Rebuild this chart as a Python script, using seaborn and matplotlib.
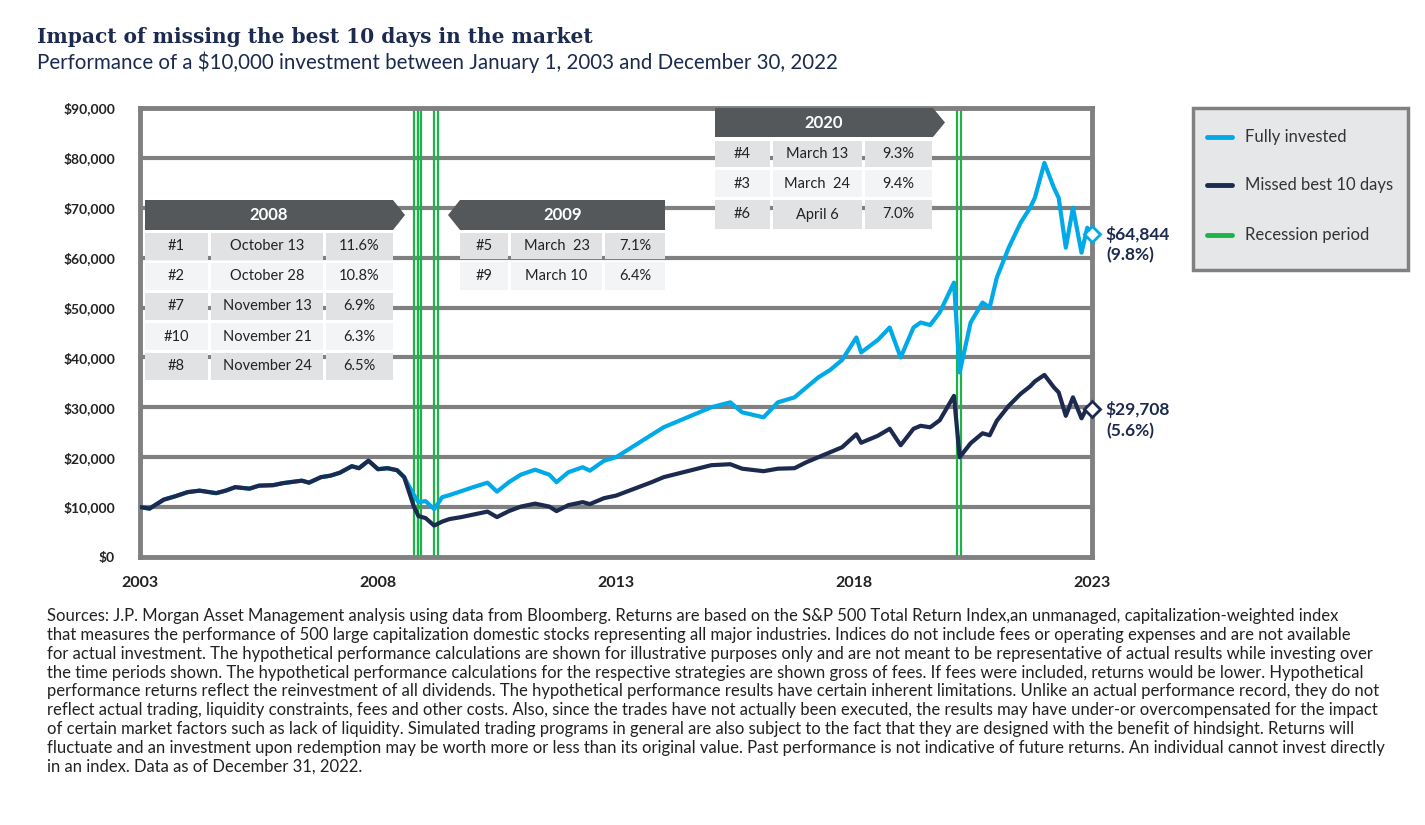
import matplotlib
matplotlib.use("Agg")
import matplotlib.pyplot as plt
import seaborn as sns
import pandas as pd
from matplotlib.patches import Rectangle, Polygon
from matplotlib.lines import Line2D

sns.set_theme(style="white")
plt.rcParams['font.family'] = ['Lato', 'DejaVu Sans']

years = [2003.0, 2003.2, 2003.5, 2003.75, 2004.0, 2004.25, 2004.6, 2004.8, 2005.0, 2005.3, 2005.5, 2005.8,
         2006.0, 2006.4, 2006.55, 2006.8, 2007.0, 2007.2, 2007.45, 2007.6, 2007.8, 2008.0, 2008.2, 2008.4,
         2008.55, 2008.75, 2008.85, 2009.0, 2009.18, 2009.35, 2009.5, 2009.75, 2010.0, 2010.3, 2010.5,
         2010.75, 2011.0, 2011.3, 2011.6, 2011.75, 2012.0, 2012.3, 2012.45, 2012.75, 2013.0, 2013.25,
         2013.5, 2013.75, 2014.0, 2014.25, 2014.5, 2014.75, 2015.0, 2015.4, 2015.65, 2016.1, 2016.4,
         2016.75, 2017.0, 2017.25, 2017.5, 2017.75, 2018.05, 2018.15, 2018.5, 2018.75, 2018.98, 2019.25,
         2019.4, 2019.6, 2019.8, 2020.1, 2020.22, 2020.45, 2020.7, 2020.85, 2021.0, 2021.25, 2021.5,
         2021.7, 2021.8, 2022.0, 2022.2, 2022.3, 2022.45, 2022.6, 2022.78, 2022.9, 2023.0]
fully = [10000, 9700, 11500, 12200, 13000, 13300, 12800, 13300, 14000, 13700, 14300, 14400,
         14800, 15300, 14900, 16000, 16300, 16900, 18200, 17800, 19300, 17600, 17800, 17400,
         16000, 12500, 11000, 11200, 9600, 12000, 12400, 13200, 14000, 14900, 13100,
         15000, 16500, 17500, 16500, 15000, 17000, 18000, 17300, 19300, 20000, 21500,
         23000, 24500, 26000, 27000, 28000, 29000, 30000, 31000, 29000, 28000, 31000,
         32000, 34000, 36000, 37500, 39500, 44000, 41000, 43500, 46000, 40000, 46000,
         47000, 46500, 49000, 55000, 37000, 47000, 51000, 50000, 56000, 62000, 67000,
         70000, 72000, 79000, 74000, 72000, 62000, 70000, 61000, 66000, 64844]
missed = [10000, 9700, 11500, 12200, 13000, 13300, 12800, 13300, 14000, 13700, 14300, 14400,
          14800, 15300, 14900, 16000, 16300, 16900, 18200, 17800, 19300, 17600, 17800, 17400,
          16000, 10200, 8200, 7800, 6300, 7100, 7600, 8000, 8500, 9100, 8000,
          9200, 10100, 10700, 10100, 9200, 10400, 11000, 10600, 11800, 12300, 13200,
          14100, 15000, 16000, 16600, 17200, 17800, 18400, 18600, 17700, 17200, 17700,
          17800, 19000, 20000, 21000, 22000, 24600, 22900, 24300, 25700, 22400, 25700,
          26300, 26000, 27400, 32300, 20000, 22800, 24800, 24400, 27300, 30300, 32700,
          34200, 35200, 36500, 34000, 33000, 28300, 32000, 27800, 30000, 29708]
recession_x = [2008.79, 2008.87, 2009.21, 2020.2]
year_ticks = [2003, 2008, 2013, 2018, 2023]
y_ticks = [0, 10000, 20000, 30000, 40000, 50000, 60000, 70000, 80000, 90000]

tables = {
    "2008": [["#1", "October 13", "11.6%"], ["#2", "October 28", "10.8%"], ["#7", "November 13", "6.9%"],
             ["#10", "November 21", "6.3%"], ["#8", "November 24", "6.5%"]],
    "2009": [["#5", "March  23", "7.1%"], ["#9", "March 10", "6.4%"]],
    "2020": [["#4", "March 13", "9.3%"], ["#3", "March  24", "9.4%"], ["#6", "April 6", "7.0%"]],
}
footer = ("Sources: J.P. Morgan Asset Management analysis using data from Bloomberg. Returns are based on the S&P 500 Total Return Index,an unmanaged, capitalization-weighted index\n"
          "that measures the performance of 500 large capitalization domestic stocks representing all major industries. Indices do not include fees or operating expenses and are not available\n"
          "for actual investment. The hypothetical performance calculations are shown for illustrative purposes only and are not meant to be representative of actual results while investing over\n"
          "the time periods shown. The hypothetical performance calculations for the respective strategies are shown gross of fees. If fees were included, returns would be lower. Hypothetical\n"
          "performance returns reflect the reinvestment of all dividends. The hypothetical performance results have certain inherent limitations. Unlike an actual performance record, they do not\n"
          "reflect actual trading, liquidity constraints, fees and other costs. Also, since the trades have not actually been executed, the results may have under-or overcompensated for the impact\n"
          "of certain market factors such as lack of liquidity. Simulated trading programs in general are also subject to the fact that they are designed with the benefit of hindsight. Returns will\n"
          "fluctuate and an investment upon redemption may be worth more or less than its original value. Past performance is not indicative of future returns. An individual cannot invest directly\n"
          "in an index. Data as of December 31, 2022.")

W, H = 1425, 825
NAVY = "#1b2a4e"; BLUE = "#00a9e8"; GREEN = "#1db34a"; GRID = "#808080"
fig = plt.figure(figsize=(W / 100, H / 100), dpi=100)
ax = fig.add_axes([140 / W, 1 - 557 / H, (1092 - 140) / W, (557 - 108) / H])

df = pd.DataFrame({"year": years + years, "value": fully + missed,
                   "series": ["Fully invested"] * len(years) + ["Missed best 10 days"] * len(years)})
for x in recession_x:
    ax.axvline(x - 0.04, color=GREEN, lw=1.6, zorder=1)
    ax.axvline(x + 0.04, color=GREEN, lw=1.6, zorder=1)
sns.lineplot(data=df, x="year", y="value", hue="series", palette=[BLUE, NAVY], lw=3, ax=ax,
             legend=False, zorder=3)
ax.set_xlim(2003, 2023); ax.set_ylim(0, 90000)
ax.set_yticks(y_ticks); ax.set_xticks(year_ticks)
ax.set_yticklabels([f"${v:,}" for v in y_ticks], fontsize=10, fontweight="bold", color="#222")
ax.set_xticklabels([str(v) for v in year_ticks], fontsize=11.5, fontweight="bold", color="#222")
ax.tick_params(axis="x", pad=8); ax.tick_params(axis="y", pad=12)
ax.set_xlabel(""); ax.set_ylabel("")
for v in y_ticks[1:]:
    ax.axhline(v, color=GRID, lw=3, zorder=0)
for s in ax.spines.values():
    s.set_color(GRID); s.set_linewidth(3.5)

ax.plot([years[-1]], [fully[-1]], marker="D", ms=8, mfc="white", mec=BLUE, mew=2, zorder=5, clip_on=False)
ax.plot([years[-1]], [missed[-1]], marker="D", ms=8, mfc="white", mec=NAVY, mew=2, zorder=5, clip_on=False)
for val, pct in [(fully[-1], "(9.8%)"), (missed[-1], "(5.6%)")]:
    ax.annotate(f"${val:,}\n{pct}", (years[-1], val), xytext=(10, -8), textcoords="offset points",
                va="center", ha="left", fontsize=12.5, fontweight="bold", color=NAVY, linespacing=1.35,
                annotation_clip=False)

def fx(px): return px / W
def fy(py): return 1 - py / H

def rect(x0, y0, x1, y1, color, z=10):
    fig.patches.append(Rectangle((fx(x0), fy(y1)), fx(x1) - fx(x0), fy(y0) - fy(y1),
                                 transform=fig.transFigure, facecolor=color, edgecolor="none", zorder=z))

def table(title, rows, x0, x1, y0, head_h, row_ys, cols, arrow):
    rect(x0, y0, x1, y0 + head_h, "#55585b")
    if arrow == "right":
        pts = [(x1, y0), (x1 + 12, y0 + head_h / 2), (x1, y0 + head_h)]
    else:
        pts = [(x0, y0), (x0 - 12, y0 + head_h / 2), (x0, y0 + head_h)]
    fig.patches.append(Polygon([(fx(a), fy(b)) for a, b in pts], transform=fig.transFigure,
                               facecolor="#55585b", edgecolor="none", zorder=10))
    fig.text(fx((x0 + x1) / 2), fy(y0 + head_h / 2), title, color="white", fontsize=12,
             fontweight="bold", ha="center", va="center", zorder=11)
    for i, (row, (ry0, ry1)) in enumerate(zip(rows, row_ys)):
        c = "#e1e2e4" if i % 2 == 0 else "#f3f4f6"
        for txt, (cx0, cx1) in zip(row, cols):
            rect(cx0, ry0, cx1, ry1, c)
            fig.text(fx((cx0 + cx1) / 2), fy((ry0 + ry1) / 2), txt, fontsize=10.5, color="#222",
                     ha="center", va="center", zorder=11)

table("2008", tables["2008"], 145, 393, 200, 30,
      [(233 + 30 * i, 233 + 30 * i + 27) for i in range(5)],
      [(145, 208), (211, 323), (326, 393)], "right")
table("2009", tables["2009"], 460, 665, 200, 30, [(233, 259), (262, 290)],
      [(460, 508), (511, 602), (605, 665)], "left")
table("2020", tables["2020"], 715, 933, 108, 29, [(141, 167), (170, 197), (200, 229)],
      [(715, 770), (773, 862), (865, 932)], "right")

fig.patches.append(Rectangle((fx(1193), fy(270)), fx(1408) - fx(1193), fy(108) - fy(270),
                             transform=fig.transFigure, facecolor="#e6e7e8", edgecolor=GRID, lw=2.5))
for yy, col, lab in [(137, BLUE, "Fully invested"), (185, NAVY, "Missed best 10 days"), (235, GREEN, "Recession period")]:
    fig.lines.append(Line2D([fx(1207), fx(1232)], [fy(yy), fy(yy)], transform=fig.transFigure, color=col, lw=3.5))
    fig.text(fx(1245), fy(yy), lab, fontsize=12, color="#333", va="center")

fig.text(fx(37), fy(37), "Impact of missing the best 10 days in the market", fontsize=14.5,
         fontweight="bold", color=NAVY, family=["DejaVu Serif"], va="center")
fig.text(fx(37), fy(62), "Performance of a $10,000 investment between January 1, 2003 and December 30, 2022",
         fontsize=14.8, color=NAVY, va="center")
fig.text(fx(47), fy(608), footer, fontsize=12, color="#222", va="top", linespacing=1.22)

fig.savefig("out.png", dpi=100, facecolor="white")
